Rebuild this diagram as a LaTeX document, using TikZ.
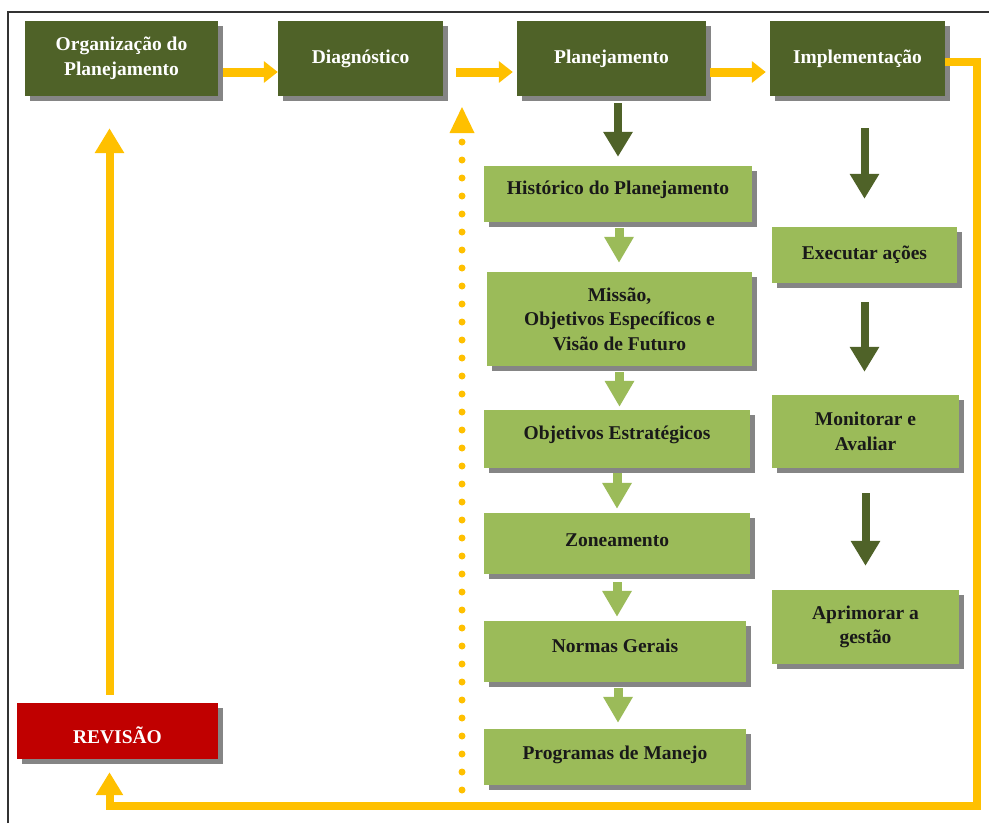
\documentclass[tikz,border=0pt]{standalone}
\usepackage{fontspec}
\setmainfont{Liberation Serif}
\usetikzlibrary{arrows.meta,shadows,calc}
\definecolor{dkgreen}{HTML}{4F6228}
\definecolor{ltgreen}{HTML}{9BBB59}
\definecolor{ored}{HTML}{C00000}
\definecolor{oyel}{HTML}{FFC000}
\definecolor{shad}{HTML}{858585}
\begin{document}
\begin{tikzpicture}[x=1pt,y=-1pt,
  sbox/.style={rectangle, inner sep=0pt, align=center,
    font=\fontsize{19.5}{24.5}\selectfont\bfseries,
    drop shadow={shadow xshift=5pt, shadow yshift=-5pt, fill=shad, opacity=1}},
  topbox/.style={sbox, fill=dkgreen, text=white},
  gbox/.style={sbox, fill=ltgreen, text=black!90},
  rbox/.style={sbox, fill=ored, text=white},
  yarr/.style={draw=oyel, line width=9pt, -{Triangle[width=21pt,length=14pt]}},
  yvarr/.style={draw=oyel, line width=8pt, -{Triangle[width=28pt,length=25pt]}},
  yloop/.style={draw=oyel, line width=8pt, -{Triangle[width=26pt,length=23pt]}},
  darr/.style={draw=dkgreen, line width=8pt, -{Triangle[width=28pt,length=25pt]}},
  larr/.style={draw=ltgreen, line width=9pt, -{Triangle[width=28pt,length=26pt]}},
  dots/.style={draw=oyel, line width=7pt, line cap=round, dash pattern=on 0pt off 18pt}
]
\useasboundingbox (0,0) rectangle (989,823);
\draw[line width=2pt, black!80] (8,823) -- (8,12) -- (989,12);

% top row
\node[topbox, minimum width=193pt, minimum height=75pt] (org) at (121.5,58.5) {Organização do\\Planejamento};
\node[topbox, minimum width=165pt, minimum height=75pt] (diag) at (360.5,58.5) {Diagnóstico};
\node[topbox, minimum width=189pt, minimum height=75pt] (plan) at (611.5,58.5) {Planejamento};
\node[topbox, minimum width=175pt, minimum height=75pt] (impl) at (857.5,58.5) {Implementação};

% revision
\node[rbox, minimum width=201pt, minimum height=56pt, text height=25pt] (rev) at (117.5,731) {REVISÃO};

% planning column
\node[gbox, minimum width=268pt, minimum height=56pt, text depth=12pt] (hist) at (618,194) {Histórico do Planejamento};
\node[gbox, minimum width=265pt, minimum height=94pt] (miss) at (619.5,319) {Missão,\\Objetivos Específicos e\\Visão de Futuro};
\node[gbox, minimum width=266pt, minimum height=58pt, text depth=13pt] (obj) at (617,439) {Objetivos Estratégicos};
\node[gbox, minimum width=266pt, minimum height=61pt, text depth=6pt] (zon) at (617,543.5) {Zoneamento};
\node[gbox, minimum width=262pt, minimum height=61pt, text depth=11pt] (norm) at (615,651.5) {Normas Gerais};
\node[gbox, minimum width=262pt, minimum height=56pt, text depth=8pt] (prog) at (615,757) {Programas de Manejo};

% implementation column
\node[gbox, minimum width=185pt, minimum height=56pt] (exe) at (864.5,255) {Executar ações};
\node[gbox, minimum width=187pt, minimum height=73pt] (mon) at (865.5,431.5) {Monitorar e\\Avaliar};
\node[gbox, minimum width=187pt, minimum height=74pt] (apr) at (865.5,627) {Aprimorar a\\gestão};

% yellow flow arrows
\draw[yarr] ($(org.east)+(5,13.5)$) -- ($(diag.west)+(0,13.5)$);
\draw[yarr] ($(diag.east)+(13,13.5)$) -- ($(plan.west)+(-4,13.5)$);
\draw[yarr] ($(plan.east)+(4,13.5)$) -- ($(impl.west)+(-4,13.5)$);
\coordinate (loopR) at (977,806);
\draw[yloop] ($(impl.east)+(0,3)$) -| (loopR) -| ($(rev.south)+(-8,13)$);
\draw[yvarr] ($(rev.north)+(-8,-8)$) -- ($(org.south -| rev.north)+(-8,32)$);

% dotted return arrow
\coordinate (dbot) at (462,790);
\coordinate (dtop) at (462,107);
\draw[dots] (dbot) -- (462,138);
\fill[oyel] (dtop) -- ++(12.5,26) -- ++(-25,0) -- cycle;

% dark green arrows
\draw[darr] ($(plan.south -| hist.north)+(0,7)$) -- ($(hist.north)+(0,-9)$);
\draw[darr] ($(impl.south -| exe.north)+(0,32)$) -- ($(exe.north)+(0,-28)$);
\draw[darr] ($(exe.south)+(0,19)$) -- ($(exe.south |- mon.north)+(0,-23)$);
\draw[darr] ($(mon.south)+(0,25)$) -- ($(mon.south |- apr.north)+(0,-24)$);

% light green arrows
\draw[larr] ($(hist.south)+(1,6)$) -- ($(hist.south |- miss.north)+(1,-9)$);
\draw[larr] ($(miss.south)+(0,6)$) -- ($(miss.south |- obj.north)+(0,-3)$);
\draw[larr] ($(obj.south)+(0,5)$) -- ($(obj.south |- zon.north)+(0,-4)$);
\draw[larr] ($(zon.south)+(0,8)$) -- ($(zon.south |- norm.north)+(0,-4)$);
\draw[larr] ($(norm.south)+(3,6)$) -- ($(norm.south |- prog.north)+(3,-6)$);
\end{tikzpicture}
\end{document}
